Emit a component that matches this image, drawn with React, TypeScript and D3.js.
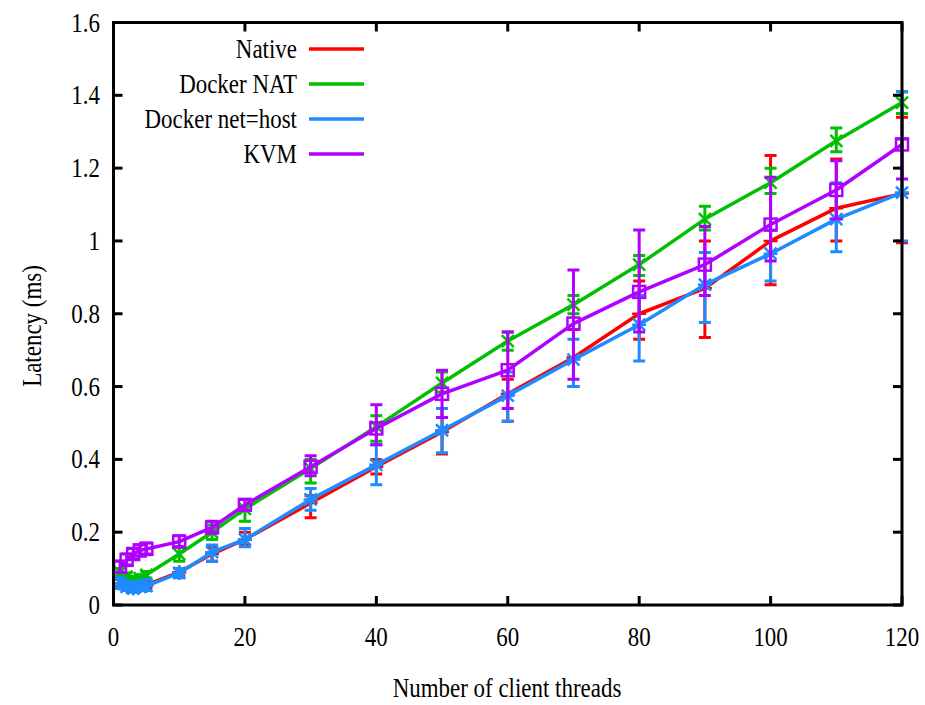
import * as d3 from "d3";
import React from "react";

// x positions (number of client threads)
const threads = [1, 2, 3, 4, 5, 10, 15, 20, 30, 40, 50, 60, 70, 80, 90, 100, 110, 120];

const nativeVal = [0.06, 0.055, 0.05, 0.052, 0.055, 0.09, 0.14, 0.18, 0.28, 0.38, 0.475, 0.58, 0.68, 0.8, 0.87, 1.0, 1.09, 1.13];
const nativeLo = [0.05, 0.045, 0.04, 0.045, 0.045, 0.08, 0.12, 0.165, 0.24, 0.36, 0.415, 0.505, 0.6, 0.73, 0.735, 0.88, 1.0, 0.995];
const nativeHi = [0.07, 0.065, 0.06, 0.06, 0.065, 0.1, 0.16, 0.2, 0.3, 0.4, 0.54, 0.62, 0.757, 0.89, 1.0, 1.235, 1.225, 1.34];

const natVal = [0.09, 0.078, 0.069, 0.074, 0.083, 0.14, 0.2, 0.264, 0.375, 0.49, 0.61, 0.725, 0.825, 0.935, 1.06, 1.16, 1.275, 1.38];
const natLo = [0.08, 0.07, 0.06, 0.065, 0.074, 0.12, 0.18, 0.23, 0.335, 0.45, 0.585, 0.7, 0.8, 0.905, 1.03, 1.13, 1.245, 1.35];
const natHi = [0.1, 0.088, 0.078, 0.083, 0.092, 0.16, 0.22, 0.29, 0.4, 0.52, 0.64, 0.75, 0.85, 0.96, 1.095, 1.2, 1.31, 1.41];

const hostVal = [0.06, 0.05, 0.045, 0.05, 0.052, 0.088, 0.145, 0.18, 0.29, 0.385, 0.48, 0.575, 0.674, 0.77, 0.88, 0.965, 1.06, 1.133];
const hostLo = [0.045, 0.04, 0.035, 0.04, 0.04, 0.075, 0.12, 0.16, 0.26, 0.33, 0.418, 0.505, 0.6, 0.67, 0.776, 0.89, 0.97, 1.0];
const hostHi = [0.075, 0.065, 0.06, 0.065, 0.07, 0.1, 0.165, 0.21, 0.32, 0.44, 0.54, 0.64, 0.73, 0.85, 0.968, 1.03, 1.16, 1.41];

const kvmVal = [0.105, 0.124, 0.14, 0.15, 0.154, 0.174, 0.213, 0.275, 0.38, 0.485, 0.58, 0.645, 0.773, 0.86, 0.935, 1.045, 1.14, 1.265];
const kvmLo = [0.09, 0.11, 0.125, 0.135, 0.14, 0.16, 0.2, 0.26, 0.355, 0.44, 0.515, 0.54, 0.62, 0.75, 0.85, 0.945, 1.06, 1.17];
const kvmHi = [0.12, 0.14, 0.155, 0.165, 0.17, 0.19, 0.23, 0.29, 0.41, 0.55, 0.645, 0.75, 0.92, 1.03, 1.04, 1.175, 1.22, 1.28];

const xTicks = [0, 20, 40, 60, 80, 100, 120];
const yTicks = [0, 0.2, 0.4, 0.6, 0.8, 1, 1.2, 1.4, 1.6];

const series = [
  { name: "Native", color: "#ff0000", marker: "plus", val: nativeVal, lo: nativeLo, hi: nativeHi },
  { name: "Docker NAT", color: "#00c000", marker: "cross", val: natVal, lo: natLo, hi: natHi },
  { name: "Docker net=host", color: "#1e8cff", marker: "star", val: hostVal, lo: hostLo, hi: hostHi },
  { name: "KVM", color: "#b000ff", marker: "square", val: kvmVal, lo: kvmLo, hi: kvmHi },
];

const left = 113.5, right = 902, top = 22.5, bottom = 605;
const font = "'Liberation Serif', 'Times New Roman', serif";
const fs = 27;
const sx = 0.85;

const x = d3.scaleLinear().domain([0, 120]).range([left, right]);
const y = d3.scaleLinear().domain([0, 1.6]).range([bottom, top]);

const Label = ({ px, py, anchor, children, rotate }: any) => (
  <text
    transform={`translate(${px},${py})${rotate ? " rotate(-90)" : ""} scale(${sx},1)`}
    textAnchor={anchor}
    fontFamily={font}
    fontSize={fs}
    fill="#000"
  >
    {children}
  </text>
);

const Marker = ({ type, cx, cy, color }: any) => {
  const s = 6;
  if (type === "square")
    return <rect x={cx - s} y={cy - s} width={2 * s} height={2 * s} fill="none" stroke={color} strokeWidth={2.5} />;
  const plus = `M${cx - 7},${cy}H${cx + 7}M${cx},${cy - 7}V${cy + 7}`;
  const cross = `M${cx - s},${cy - s}L${cx + s},${cy + s}M${cx - s},${cy + s}L${cx + s},${cy - s}`;
  const d = type === "plus" ? plus : type === "cross" ? cross : plus + cross;
  return <path d={d} stroke={color} strokeWidth={2.5} fill="none" />;
};

export default function App() {
  const line = d3
    .line<number>()
    .x((d, i) => x(threads[i]))
    .y((d) => y(d));

  return (
    <svg width={925} height={705} style={{ position: "absolute", left: 0, top: 0, background: "#fff" }}>
      {/* plot series */}
      {series.map((s) => (
        <g key={s.name}>
          {threads.map((t, i) => (
            <path
              key={i}
              d={`M${x(t)},${y(s.lo[i])}V${y(s.hi[i])}M${x(t) - 6},${y(s.lo[i])}H${x(t) + 6}M${x(t) - 6},${y(s.hi[i])}H${x(t) + 6}`}
              stroke={s.color}
              strokeWidth={3}
              fill="none"
            />
          ))}
          <path d={line(s.val) || ""} stroke={s.color} strokeWidth={3.5} fill="none" strokeLinejoin="round" />
          {threads.map((t, i) => (
            <Marker key={i} type={s.marker} cx={x(t)} cy={y(s.val[i])} color={s.color} />
          ))}
        </g>
      ))}

      {/* frame and ticks */}
      <rect x={left} y={top} width={right - left} height={bottom - top} fill="none" stroke="#000" strokeWidth={3} />
      {yTicks.map((t) => (
        <g key={t}>
          <line x1={left} x2={left + 9} y1={y(t)} y2={y(t)} stroke="#000" strokeWidth={3} />
          <line x1={right} x2={right - 9} y1={y(t)} y2={y(t)} stroke="#000" strokeWidth={3} />
          <Label px={100} py={y(t) + 9} anchor="end">{String(t)}</Label>
        </g>
      ))}
      {xTicks.map((t) => (
        <g key={t}>
          <line x1={x(t)} x2={x(t)} y1={bottom} y2={bottom - 9} stroke="#000" strokeWidth={3} />
          <line x1={x(t)} x2={x(t)} y1={top} y2={top + 9} stroke="#000" strokeWidth={3} />
          <Label px={x(t)} py={646} anchor="middle">{String(t)}</Label>
        </g>
      ))}

      {/* axis titles */}
      <Label px={507} py={697} anchor="middle">Number of client threads</Label>
      <Label px={41} py={326} anchor="middle" rotate>Latency (ms)</Label>

      {/* legend */}
      {series.map((s, i) => (
        <g key={s.name}>
          <Label px={297} py={49 + i * 35 + 9} anchor="end">{s.name}</Label>
          <line x1={309} x2={364} y1={49 + i * 35} y2={49 + i * 35} stroke={s.color} strokeWidth={3.5} />
        </g>
      ))}
    </svg>
  );
}
